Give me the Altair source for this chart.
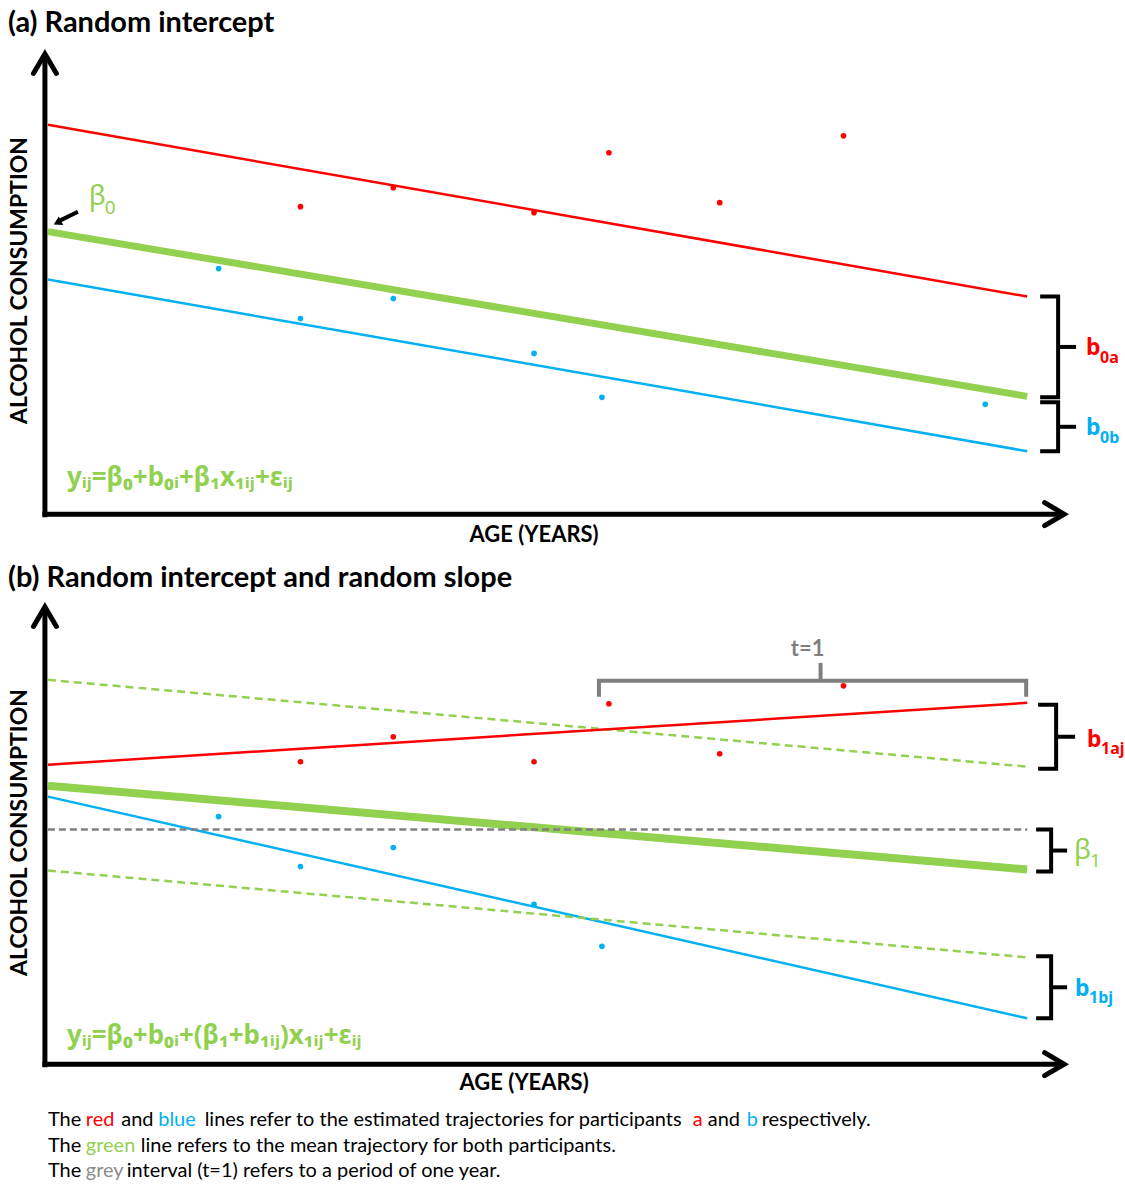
import altair as alt
import pandas as pd

RED = "#FF0000"
BLUE = "#00B0F0"
GREEN = "#92D050"
GREY = "#7F7F7F"
BLACK = "#000000"

# ---------------- data (age units, consumption units) ----------------
# Panel (a) observed points
a_red_age = [25.6, 34.9, 49.0, 56.5, 67.6, 80.0]
a_red_cons = [30.8, 32.7, 30.2, 36.2, 31.2, 37.9]
a_blue_age = [17.4, 25.6, 34.9, 49.0, 55.8, 94.2]
a_blue_cons = [24.6, 19.6, 21.6, 16.1, 11.7, 11.0]
# Panel (b) observed points
b_red_age = [25.6, 34.9, 49.0, 56.5, 67.6, 80.0]
b_red_cons = [30.3, 32.8, 30.3, 36.1, 31.1, 37.9]
b_blue_age = [17.4, 25.6, 34.9, 49.0, 55.8]
b_blue_cons = [24.8, 19.8, 21.7, 16.0, 11.8]

# trajectories: start / end age and start / end consumption
traj_age = [0.3, 98.4]
a_traj_names = ["red", "green", "blue"]
a_traj_start = [39.0, 28.3, 23.5]
a_traj_end = [21.8, 11.8, 6.3]
b_traj_names = ["green_hi", "red", "green", "blue", "ref", "green_lo"]
b_traj_start = [38.5, 30.0, 27.9, 26.8, 23.5, 19.4]
b_traj_end = [29.8, 36.2, 19.5, 4.6, 23.5, 10.7]

# text content
title_a = "(a) Random intercept"
title_b = "(b) Random intercept and random slope"
x_title = "AGE (YEARS)"
y_title = "ALCOHOL CONSUMPTION"
formula_a = "yᵢⱼ=β₀+b₀ᵢ+β₁x₁ᵢⱼ+εᵢⱼ"
formula_b = "yᵢⱼ=β₀+b₀ᵢ+(β₁+b₁ᵢⱼ)x₁ᵢⱼ+εᵢⱼ"
foot_rows = [
    [("The", "k"), ("red", "r"), ("and", "k"), ("blue", "b"),
     ("lines refer to the estimated trajectories for participants", "k"),
     ("a", "r"), ("and", "k"), ("b", "b"), ("respectively.", "k")],
    [("The", "k"), ("green", "g"),
     ("line refers to the mean trajectory for both participants.", "k")],
    [("The", "k"), ("grey", "s"), ("interval (t=1) refers to a period of one year.", "k")],
]
foot_starts = [
    [0.3, 4.1, 7.65, 11.35, 16.0, 64.9, 66.4, 70.3, 71.8],
    [0.3, 4.1, 9.6],
    [0.3, 4.1, 8.2],
]
color_of = {"k": BLACK, "r": RED, "b": BLUE, "g": GREEN, "s": "#8C8C8C"}

# ---------------- layout ----------------
W = 1125
XS = alt.Scale(domain=[-4.5, 108], nice=False, zero=False)


def X():
    return alt.X("u:Q", scale=XS, axis=None)


def Y(ys):
    return alt.Y("v:Q", scale=ys, axis=None)


def rules(rows, ys, **mk):
    df = pd.DataFrame(rows, columns=["u", "v", "u2", "v2"])
    return alt.Chart(df).mark_rule(**mk).encode(x=X(), y=Y(ys), x2="u2:Q", y2="v2:Q")


def polylines(shapes, ys, **mk):
    rows = []
    for i, pts in enumerate(shapes):
        for j, (u, v) in enumerate(pts):
            rows.append({"id": i, "o": j, "u": u, "v": v})
    df = pd.DataFrame(rows)
    return alt.Chart(df).mark_line(**mk).encode(x=X(), y=Y(ys), detail="id:N", order="o:Q")


def dots(ages, cons, ys, color):
    df = pd.DataFrame({"u": ages, "v": cons})
    return alt.Chart(df).mark_circle(size=32, color=color, opacity=1).encode(x=X(), y=Y(ys))


def texts(rows, ys, **mk):
    df = pd.DataFrame(rows, columns=["t", "u", "v"])
    return alt.Chart(df).mark_text(**mk).encode(x=X(), y=Y(ys), text="t:N")


def traj_rules(names, starts, ends, ys, style):
    layers = []
    for n, s, e in zip(names, starts, ends):
        color, width, dash = style[n]
        mk = dict(color=color, strokeWidth=width, strokeCap="butt")
        if dash:
            mk["strokeDash"] = dash
        layers.append(rules([[traj_age[0], s, traj_age[1], e]], ys, **mk))
    return layers


def axes(ys, ytip):
    back, spread = 1.95, 1.15
    return [
        rules([[0, -0.3, 0, ytip - 0.1], [-0.25, 0, 102.0, 0]], ys,
              color=BLACK, strokeWidth=5, strokeCap="butt"),
        polylines([[(-spread, ytip - back), (0, ytip), (spread, ytip - back)],
                   [(102.1 - back, spread), (102.1, 0), (102.1 - back, -spread)]], ys,
                  color=BLACK, strokeWidth=5, strokeJoin="miter", strokeCap="round"),
    ]


def common_text(ys, title, title_v, xt_u, xt_v, yt_v, formula, formula_v):
    return [
        texts([[title, -3.7, title_v]], ys, align="left", baseline="middle",
              font="Lato", fontSize=29, fontWeight="bold", color=BLACK),
        texts([[x_title, xt_u, xt_v]], ys, align="center", baseline="middle",
              font="Lato", fontSize=22, fontWeight="bold", color=BLACK),
        texts([[y_title, -2.5, yt_v]], ys, align="center", baseline="middle", angle=270,
              font="Lato", fontSize=23, fontWeight="bold", color=BLACK),
        texts([[formula, 2.2, formula_v]], ys, align="left", baseline="alphabetic",
              font="Noto Sans", fontSize=26, fontWeight="bold", color=GREEN),
    ]


def sub_label(main, sub, u, v, u_sub, v_sub, ys, color, weight="bold", size=23, sub_size=16):
    return [
        texts([[main, u, v]], ys, align="left", baseline="alphabetic",
              font="Noto Sans", fontSize=size, fontWeight=weight, color=color),
        texts([[sub, u_sub, v_sub]], ys, align="left", baseline="alphabetic",
              font="Noto Sans", fontSize=sub_size, fontWeight=weight, color=color),
    ]


# ---------------- panel (a) ----------------
YA = alt.Scale(domain=[-4.1, 51.4], nice=False, zero=False)
style_a = {"red": (RED, 2.5, None), "green": (GREEN, 7, None), "blue": (BLUE, 2.5, None)}
layers_a = []
layers_a += traj_rules(a_traj_names, a_traj_start, a_traj_end, YA, style_a)
layers_a += [dots(a_red_age, a_red_cons, YA, RED), dots(a_blue_age, a_blue_cons, YA, BLUE)]
layers_a += axes(YA, 46.1)
layers_a += [
    polylines([[(99.7, 21.8), (101.5, 21.8), (101.5, 11.7), (99.7, 11.7)],
               [(99.7, 11.2), (101.5, 11.2), (101.5, 6.3), (99.7, 6.3)]], YA,
              color=BLACK, strokeWidth=4, strokeJoin="miter"),
    rules([[101.5, 16.75, 103.3, 16.75], [101.5, 8.75, 103.3, 8.75]], YA,
          color=BLACK, strokeWidth=4, strokeCap="butt"),
    rules([[3.3, 30.3, 1.5, 29.4]], YA, color=BLACK, strokeWidth=4, strokeCap="butt"),
    alt.Chart(pd.DataFrame({"u": [1.25], "v": [29.2]})).mark_point(
        shape="triangle-left", filled=True, size=90, angle=332, color=BLACK, opacity=1
    ).encode(x=X(), y=Y(YA)),
]
layers_a += sub_label("b", "0a", 104.3, 15.9, 105.7, 15.1, YA, RED)
layers_a += sub_label("b", "0b", 104.3, 7.9, 105.7, 7.1, YA, BLUE)
layers_a += sub_label("β", "0", 4.4, 31.0, 6.0, 30.1, YA, GREEN, weight="normal", size=28, sub_size=19)
layers_a += common_text(YA, title_a, 49.2, 49.0, -2.1, 23.4, formula_a, 2.8)
panel_a = alt.layer(*layers_a).properties(width=W, height=555)

# ---------------- panel (b) ----------------
YB = alt.Scale(domain=[-3.5, 51.0], nice=False, zero=False)
style_b = {
    "green_hi": (GREEN, 2.5, [8, 5]),
    "red": (RED, 2.5, None),
    "green": (GREEN, 8, None),
    "blue": (BLUE, 2.5, None),
    "ref": (GREY, 2.5, [7, 4]),
    "green_lo": (GREEN, 2.5, [8, 5]),
}
layers_b = []
layers_b += traj_rules(b_traj_names, b_traj_start, b_traj_end, YB, style_b)
layers_b += [dots(b_red_age, b_red_cons, YB, RED), dots(b_blue_age, b_blue_cons, YB, BLUE)]
layers_b += axes(YB, 45.8)
layers_b += [
    polylines([[(99.5, 36.0), (101.3, 36.0), (101.3, 29.6), (99.5, 29.6)],
               [(99.3, 23.5), (100.8, 23.5), (100.8, 19.3), (99.3, 19.3)],
               [(99.3, 10.8), (100.8, 10.8), (100.8, 4.6), (99.3, 4.6)]], YB,
              color=BLACK, strokeWidth=4, strokeJoin="miter"),
    rules([[101.3, 32.8, 103.2, 32.8], [100.8, 21.4, 102.4, 21.4], [100.8, 7.7, 102.4, 7.7]], YB,
          color=BLACK, strokeWidth=4, strokeCap="butt"),
    polylines([[(55.5, 36.8), (55.5, 38.4), (98.3, 38.4), (98.3, 36.8)]], YB,
              color=GREY, strokeWidth=4, strokeJoin="miter"),
    rules([[77.7, 38.4, 77.7, 40.2]], YB, color=GREY, strokeWidth=4, strokeCap="butt"),
    texts([["t=1", 76.4, 41.6]], YB, align="center", baseline="middle",
          font="Lato", fontSize=22, fontWeight="bold", color=GREY),
]
layers_b += sub_label("b", "1aj", 104.4, 31.8, 105.8, 31.1, YB, RED)
layers_b += sub_label("β", "1", 103.1, 20.6, 104.7, 19.8, YB, GREEN, weight="normal", size=28, sub_size=19)
layers_b += sub_label("b", "1bj", 103.2, 6.8, 104.6, 6.1, YB, BLUE)
layers_b += common_text(YB, title_b, 48.7, 48.0, -1.9, 23.2, formula_b, 2.0)
panel_b = alt.layer(*layers_b).properties(width=W, height=545)

# ---------------- footnote ----------------
YF = alt.Scale(domain=[0.176, 3.47], reverse=True, nice=False, zero=False)
foot = []
for r, (segs, starts) in enumerate(zip(foot_rows, foot_starts)):
    for (t, c), u in zip(segs, starts):
        foot.append({"t": t, "u": u, "v": r + 1, "c": color_of[c]})
foot_df = pd.DataFrame(foot)
panel_f = alt.Chart(foot_df).mark_text(
    align="left", baseline="middle", font="Lato", fontSize=20
).encode(x=X(), y=Y(YF), text="t:N", color=alt.Color("c:N", scale=None)).properties(
    width=W, height=84)

chart = alt.vconcat(panel_a, panel_b, panel_f, spacing=0).properties(
    padding=0, background="white"
).configure_view(stroke=None)

chart.save("out.html", embed_options={"renderer": "svg", "actions": False})
